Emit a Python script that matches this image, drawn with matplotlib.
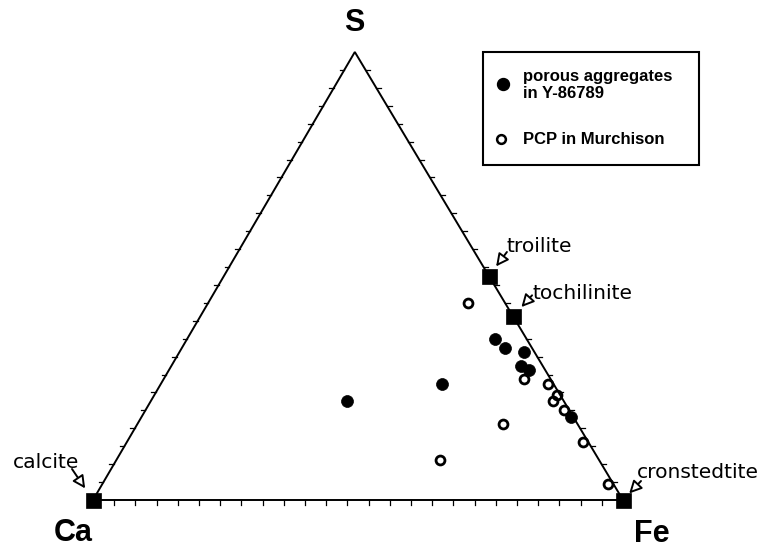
import numpy as np
import matplotlib as mpl; mpl.use("Agg")
import matplotlib.pyplot as plt
from matplotlib.patches import Rectangle

# compositions in percent: Ca, Fe, S
Y_CA = [6, 5, 2, 4, 3, 21, 41, 0.5]
Y_FE = [58, 61, 65, 66, 68, 53, 37, 81]
Y_S  = [36, 34, 33, 30, 29, 26, 22, 18.5]

M_CA = [7, 5, 1, 0.5, 2, 1, 1, 1, 14, 30]
M_FE = [49, 68, 73, 76, 76, 79, 86, 95.5, 69, 61]
M_S  = [44, 27, 26, 23.5, 22, 20, 13, 3.5, 17, 9]

MINERALS = ["calcite", "troilite", "tochilinite", "cronstedtite"]
MIN_CA = [100, 0, 0, 0]
MIN_FE = [0, 50, 59, 100]
MIN_S  = [0, 50, 41, 0]

LEG_LABELS = ["porous aggregates\nin Y-86789", "PCP in Murchison"]
N_TICKS = 25
H = 448/530  # apex height (slightly squashed triangle)

def tern(ca, fe, s):
    ca, fe, s = (np.asarray(v, float) for v in (ca, fe, s))
    tot = ca+fe+s; fe = fe/tot; s = s/tot
    return fe+0.494*s, s*H

W, Hpx = 766, 554
fig = plt.figure(figsize=(W/100, Hpx/100), dpi=100)
ax = fig.add_axes([0, 0, 1, 1])
ax.set_xlim(-93/530, 673/530); ax.set_ylim(-54/530, 500/530)
ax.axis("off")

# frame
vx, vy = tern([100, 0, 0, 100], [0, 100, 0, 0], [0, 0, 100, 0])
ax.plot(vx, vy, color="black", lw=1.4, zorder=3, solid_joinstyle="miter")
L = 4.5/530
f = np.arange(1, N_TICKS)/N_TICKS
for i in range(len(f)):
    # left edge Ca-S, ticks to the left
    x, y = tern(1-f[i], 0, f[i]); ax.plot([x-L, x], [y, y], color="black", lw=0.9, zorder=3)
    # right edge Fe-S, ticks to the right
    x, y = tern(0, 1-f[i], f[i]); ax.plot([x, x+L], [y, y], color="black", lw=0.9, zorder=3)
    # bottom edge Ca-Fe, ticks down
    x, y = tern(1-f[i], f[i], 0); ax.plot([x, x], [y-L, y], color="black", lw=0.9, zorder=3)

# data
mx, my = tern(M_CA, M_FE, M_S)
ax.plot(mx, my, "o", ms=6.4, mfc="none", mec="black", mew=2.0, ls="", zorder=4)
yx, yy = tern(Y_CA, Y_FE, Y_S)
ax.plot(yx, yy, "o", ms=8.6, mfc="black", mec="black", mew=0.5, ls="", zorder=5)
nx, ny = tern(MIN_CA, MIN_FE, MIN_S)
ax.plot(nx, ny, "s", ms=10.8, mfc="black", mec="black", mew=0.5, ls="", zorder=6)

# mineral labels: text offset, arrow tail offset, shrink (pixels, y up)
TXT_OFF = [(-14, 38), (18, 30), (19, 23), (14, 28)]
TXT_HA = ["right", "left", "left", "left"]
TAIL_OFF = [(-21, 31), (18, 24), (19, 21), (18, 19)]
SHRINK = [14.0, 12.0, 12.5, 9.0]
for i, name in enumerate(MINERALS):
    ax.annotate(name, xy=(nx[i], ny[i]), xytext=TXT_OFF[i], textcoords="offset pixels",
                ha=TXT_HA[i], va="center", fontsize=14.6, family="DejaVu Sans", zorder=7)
    ax.annotate("", xy=(nx[i], ny[i]), xytext=TAIL_OFF[i], textcoords="offset pixels",
                arrowprops=dict(arrowstyle="-|>,head_length=0.75,head_width=0.38", fc="white",
                                ec="black", lw=1.4, shrinkA=0, shrinkB=SHRINK[i]*0.72), zorder=7)

# vertex labels
fx = lambda px: px/W
fy = lambda py: 1-py/Hpx
for lab, px, py in [("S", 354, 23), ("Ca", 73, 533), ("Fe", 652, 534)]:
    fig.text(fx(px), fy(py), lab, ha="center", va="center", fontsize=22,
             fontweight="bold", family="Liberation Sans")

# legend box
fig.patches.append(Rectangle((fx(483), fy(165)), fx(699)-fx(483), fy(52)-fy(165),
                             transform=fig.transFigure, fill=False, ec="black", lw=1.5))
fig.add_artist(plt.Line2D([fx(503)], [fy(84)], marker="o", ms=8.6, mfc="black", mec="black",
                          transform=fig.transFigure))
fig.add_artist(plt.Line2D([fx(501)], [fy(139)], marker="o", ms=6.3, mfc="none", mec="black",
                          mew=1.8, transform=fig.transFigure))
fig.text(fx(523), fy(85), LEG_LABELS[0], ha="left", va="center", fontsize=12,
         fontweight="bold", family="Liberation Sans", linespacing=1.1)
fig.text(fx(523), fy(139), LEG_LABELS[1], ha="left", va="center", fontsize=12,
         fontweight="bold", family="Liberation Sans")

fig.savefig("out.png", dpi=100, facecolor="white")
